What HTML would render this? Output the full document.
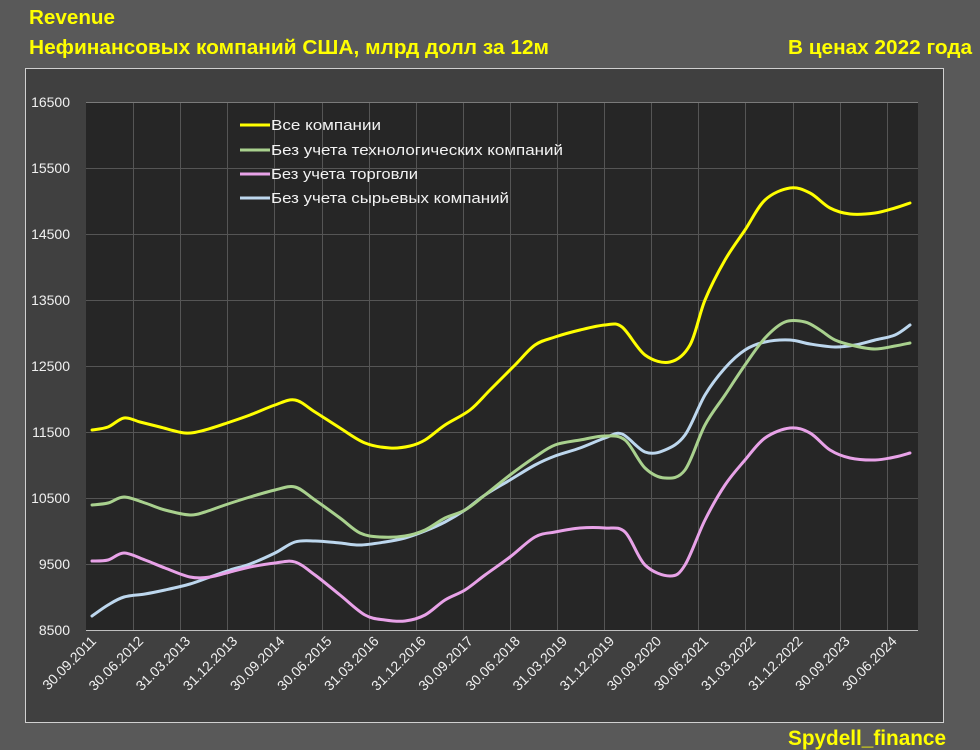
<!DOCTYPE html>
<html><head><meta charset="utf-8"><style>
html,body{margin:0;padding:0;background:#595959;}
svg{display:block;font-family:"Liberation Sans",sans-serif;}
</style></head><body>
<svg id="s" width="980" height="750" viewBox="0 0 980 750" xmlns="http://www.w3.org/2000/svg">
<rect width="980" height="750" fill="#595959"/>
<text x="29" y="24" fill="#ffff00" font-weight="bold" font-size="20" textLength="86" lengthAdjust="spacingAndGlyphs">Revenue</text>
<text x="29" y="54" fill="#ffff00" font-weight="bold" font-size="20" textLength="520" lengthAdjust="spacingAndGlyphs">Нефинансовых компаний США, млрд долл за 12м</text>
<text x="788" y="54" fill="#ffff00" font-weight="bold" font-size="20" textLength="184" lengthAdjust="spacingAndGlyphs">В ценах 2022 года</text>
<text x="788" y="745" fill="#ffff00" font-weight="bold" font-size="21" textLength="158" lengthAdjust="spacingAndGlyphs">Spydell_finance</text>
<rect x="25.5" y="68.5" width="918" height="654" fill="#404040" stroke="#d0d0d0" stroke-width="1"/>
<rect x="86" y="102" width="832" height="528" fill="#262626"/>
<g id="grid" stroke="#555555" stroke-width="1"></g>
<line x1="86" y1="630.5" x2="918" y2="630.5" stroke="#bfbfbf"/>
<line x1="86" y1="102.5" x2="918" y2="102.5" stroke="#7a7a7a"/>
<g id="ylab" fill="#f0f0f0" font-size="14" text-anchor="end"></g>
<g id="xlab" fill="#f0f0f0" font-size="14" text-anchor="end"></g>
<g id="series" fill="none" stroke-width="3" stroke-linejoin="round" stroke-linecap="round"></g>
<g font-size="15" fill="#f2f2f2">
<line x1="240" y1="125" x2="270" y2="125" stroke="#ffff00" stroke-width="3"/>
<line x1="240" y1="150" x2="270" y2="150" stroke="#a9d18e" stroke-width="3"/>
<line x1="240" y1="174" x2="270" y2="174" stroke="#e8a2e8" stroke-width="3"/>
<line x1="240" y1="198" x2="270" y2="198" stroke="#bdd7ee" stroke-width="3"/>
<text x="271" y="130" textLength="110" lengthAdjust="spacingAndGlyphs">Все компании</text>
<text x="271" y="155" textLength="292" lengthAdjust="spacingAndGlyphs">Без учета технологических компаний</text>
<text x="271" y="179" textLength="147" lengthAdjust="spacingAndGlyphs">Без учета торговли</text>
<text x="271" y="203" textLength="238" lengthAdjust="spacingAndGlyphs">Без учета сырьевых компаний</text>
</g>
</svg>
<script>
var NS="http://www.w3.org/2000/svg";
function el(p,n,a,t){var e=document.createElementNS(NS,n);for(var k in a)e.setAttribute(k,a[k]);if(t)e.textContent=t;document.getElementById(p).appendChild(e);}
for(var k=1;k<18;k++){var x=Math.round(86+47.1*k)+0.5;el("grid","line",{x1:x,y1:102,x2:x,y2:630});}
for(var k=1;k<8;k++){var y=102+66*k+0.5;el("grid","line",{x1:86,y1:y,x2:918,y2:y});}
for(var k=0;k<9;k++){el("ylab","text",{x:70,y:630-66*k+5},String(8500+1000*k));}
var labs=["30.09.2011","30.06.2012","31.03.2013","31.12.2013","30.09.2014","30.06.2015","31.03.2016","31.12.2016","30.09.2017","30.06.2018","31.03.2019","31.12.2019","30.09.2020","30.06.2021","31.03.2022","31.12.2022","30.09.2023","30.06.2024"];
labs.forEach(function(l,i){var x=97+47.1*i,y=642;el("xlab","text",{x:x,y:y,transform:"rotate(-45 "+x+" "+y+")"},l);});
function path(p){var d="M"+p[0][0]+","+p[0][1];for(var i=0;i<p.length-1;i++){var p0=p[i-1]||p[i],p1=p[i],p2=p[i+1],p3=p[i+2]||p2;
var c1x=p1[0]+(p2[0]-p0[0])/6,c1y=p1[1]+(p2[1]-p0[1])/6,c2x=p2[0]-(p3[0]-p1[0])/6,c2y=p2[1]-(p3[1]-p1[1])/6;
d+=" C"+c1x+","+c1y+" "+c2x+","+c2y+" "+p2[0]+","+p2[1];}return d;}
var S=[
["#bdd7ee",[[92,616],[108,605],[124,597],[145,594],[165,590],[190,584],[210,577],[230,570],[250,564],[275,553],[295,542],[315,541],[340,543],[360,545],[385,542],[405,538],[425,531],[445,522],[465,510],[485,495],[510,480],[535,465],[555,456],[580,448],[605,438],[622,434],[645,452],[665,450],[685,435],[705,395],[725,368],[745,350],[765,342],[790,340],[810,344],[835,347],[855,345],[875,340],[895,335],[910,325]]],
["#e8a2e8",[[92,561],[108,560],[124,553],[145,560],[165,568],[190,577],[210,577],[230,572],[250,567],[275,563],[295,562],[315,575],[340,595],[365,615],[385,620],[405,621],[425,615],[445,600],[465,590],[485,575],[510,557],[535,537],[555,532],[580,528],[605,528],[625,532],[645,565],[670,576],[685,565],[705,520],[725,485],[745,460],[765,438],[790,428],[810,433],[830,450],[850,458],[875,460],[895,457],[910,453]]],
["#a9d18e",[[92,505],[108,503],[124,497],[145,503],[165,510],[190,515],[205,512],[225,505],[250,497],[275,490],[295,487],[315,500],[340,518],[360,533],[380,537],[405,536],[425,530],[445,518],[465,510],[485,495],[510,475],[535,457],[555,445],[580,440],[605,436],[625,440],[645,468],[665,478],[685,470],[705,425],[725,395],[745,365],[765,338],[785,322],[805,322],[820,330],[835,340],[855,346],[875,349],[895,346],[910,343]]],
["#ffff00",[[92,430],[108,427],[124,418],[140,422],[160,427],[185,433],[205,430],[230,422],[250,415],[275,405],[295,400],[315,412],[340,428],[365,443],[390,448],[410,446],[425,440],[445,425],[470,410],[490,390],[515,365],[535,345],[555,337],[580,330],[605,325],[622,327],[645,355],[670,362],[690,345],[705,300],[725,260],[745,230],[765,200],[790,188],[810,193],[830,208],[850,214],[875,213],[895,208],[910,203]]]
];
S.forEach(function(s){el("series","path",{d:path(s[1]),stroke:s[0]});});
</script>
</body></html>
